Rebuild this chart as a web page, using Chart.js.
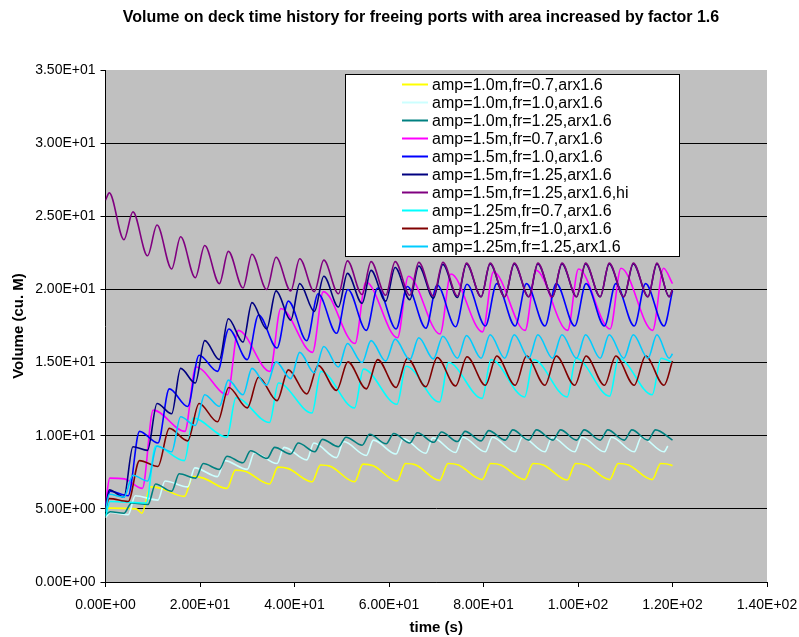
<!DOCTYPE html>
<html>
<head>
<meta charset="utf-8">
<title>Volume on deck time history</title>
<script src="https://cdn.jsdelivr.net/npm/chart.js@4.4.0/dist/chart.umd.min.js"></script>
<style>
  html, body { margin: 0; padding: 0; background: #fff; }
  #wrap { width: 799px; height: 637px; }
</style>
</head>
<body>
<div id="wrap"><canvas id="deckChart" width="799" height="637"></canvas></div>
<script>
// [time (s), volume (cu. M)], turning points only
const amp10fr07 = [[0,5.0],[1.0,5.05],[6.5,5.0],[7.7,4.7],
  [9.5,6.5],[11.7,6.4],[16.7,5.85],[18.5,7.2],[20.7,7.1],[25.7,6.4],
  [27.5,7.65],[29.7,7.55],[34.7,6.7],[36.5,7.85],[38.7,7.75],[43.7,6.85],
  [45.5,8.0],[47.7,7.9],[52.7,6.85],[54.5,8.06],[56.7,7.95],[61.7,6.9],
  [63.5,8.1],[65.7,8.0],[70.7,6.95],[72.5,8.1],[74.7,8.0],[79.7,7.0],
  [81.5,8.1],[83.7,8.0],[88.7,7.0],[90.5,8.1],[92.7,8.0],[97.7,6.97],
  [99.5,8.1],[101.7,8.0],[106.7,7.0],[108.5,8.1],[110.7,8.0],[115.7,7.0],
  [117.5,8.1],[119.7,8.0],[120,7.95]];

const amp10fr10 = [[0,4.4],[1.0,4.75],[4.8,4.6],[6.3,5.9],[11.1,5.6],[12.6,6.9],
  [17.4,6.5],[18.9,7.8],[23.7,7.2],[25.2,8.3],[30.0,7.7],[31.5,8.84],
  [36.3,8.1],[37.8,9.2],[42.6,8.35],[44.1,9.5],[48.9,8.5],[50.4,9.6],
  [55.2,8.65],[56.7,9.7],[61.5,8.75],[63.0,9.8],[67.8,8.8],[69.3,9.85],
  [74.1,8.85],[75.6,9.9],[80.4,8.9],[81.9,9.9],[86.7,8.9],[88.2,9.9],
  [93.0,8.9],[94.5,9.9],[99.3,8.9],[100.8,9.9],[105.6,8.9],[107.1,9.9],
  [111.9,8.9],[113.4,9.9],[118.2,8.9],[119.0,9.3]];

const amp10fr125 = [[0,4.6],[1.0,4.8],[3.9,4.7],[5.5,5.4],[9.0,5.3],[10.6,6.7],
  [14.0,6.2],[15.6,7.4],[19.1,7.1],[20.7,8.1],[24.1,7.7],[25.7,8.6],
  [29.1,8.15],[30.7,8.97],[34.2,8.45],[35.8,9.2],[39.2,8.75],[40.8,9.5],
  [44.3,8.9],[45.9,9.75],[49.3,9.25],[50.9,9.9],[54.3,9.35],[55.9,10.1],
  [59.4,9.45],[61.0,10.15],[64.4,9.5],[66.0,10.2],[69.5,9.55],[71.1,10.25],
  [74.5,9.6],[76.1,10.3],[79.5,9.65],[81.1,10.35],[84.6,9.7],[86.2,10.4],
  [89.6,9.7],[91.2,10.4],[94.7,9.7],[96.3,10.4],[99.7,9.7],[101.3,10.4],
  [104.7,9.7],[106.3,10.4],[109.8,9.7],[111.4,10.4],[114.8,9.7],[116.4,10.4],
  [120,9.7]];

const amp15fr07 = [[0,5.3],[0.9,7.1],[4.0,7.05],[7.8,6.4],[10.1,11.75],[16.8,10.3],
  [19.1,14.7],[25.8,12.8],[28.1,17.2],[34.8,14.4],[37.1,18.7],[43.8,15.7],
  [46.1,19.85],[52.8,16.3],[55.1,20.5],[61.8,16.7],[64.1,20.9],[70.8,16.95],
  [73.1,21.05],[79.8,17.1],[82.1,21.2],[88.8,17.2],[91.1,21.3],[97.8,17.2],
  [100.1,21.4],[106.8,17.3],[109.1,21.45],[115.8,17.2],[118.1,21.45],[120,20.4]];

const amp15fr10 = [[0,5.2],[1.0,6.2],[4.8,5.9],[7.2,10.3],[11.1,9.5],[13.5,13.2],
  [17.4,12.0],[19.8,15.5],[23.7,14.4],[26.1,17.3],[30.0,15.2],[32.4,18.25],
  [36.3,16.0],[38.7,19.2],[42.6,16.5],[45.0,19.7],[48.9,17.0],[51.3,20.0],
  [55.2,17.2],[57.6,20.1],[61.5,17.3],[63.9,20.2],[67.8,17.35],[70.2,20.3],
  [74.1,17.45],[76.5,20.35],[80.4,17.5],[82.8,20.4],[86.7,17.5],[89.1,20.4],
  [93.0,17.5],[95.4,20.4],[99.3,17.5],[101.7,20.4],[105.6,17.5],[108.0,20.4],
  [111.9,17.5],[114.3,20.4],[118.2,17.5],[120,19.9]];

const amp15fr125 = [[0,5.0],[0.8,6.3],[3.9,5.8],[5.8,9.25],[8.9,9.0],[10.9,12.2],
  [14.0,11.5],[15.9,14.6],[19.0,13.6],[21.0,16.5],[24.1,15.2],[26.0,18.0],
  [29.1,16.4],[31.0,19.1],[34.1,17.3],[36.1,19.9],[39.2,17.9],[41.1,20.4],
  [44.2,18.5],[46.2,20.9],[49.3,18.8],[51.2,21.1],[54.3,19.05],[56.2,21.3],
  [59.3,19.2],[61.3,21.5],[64.4,19.3],[66.3,21.6],[69.4,19.4],[71.4,21.7],
  [74.5,19.45],[76.4,21.75],[79.5,19.5],[81.4,21.75],[84.5,19.5],[86.5,21.75],
  [89.6,19.5],[91.5,21.75],[94.6,19.5],[96.6,21.75],[99.7,19.5],[101.6,21.75],
  [104.7,19.5],[106.6,21.75],[109.7,19.5],[111.7,21.75],[114.8,19.5],[116.7,21.75],
  [119.3,19.5],[120,20.0]];

const amp15fr125hi = [[0,26.1],[0.8,26.6],[3.9,23.4],[5.8,25.3],[8.9,22.3],[10.9,24.4],
  [14.0,21.4],[15.9,23.6],[19.0,20.8],[21.0,23.0],[24.1,20.4],[26.0,22.6],
  [29.1,20.1],[31.0,22.4],[34.1,20.0],[36.1,22.2],[39.2,19.9],[41.1,22.1],
  [44.2,19.85],[46.2,22.0],[49.3,19.7],[51.2,21.95],[54.3,19.65],[56.2,21.9],
  [59.3,19.6],[61.3,21.9],[64.4,19.6],[66.3,21.85],[69.4,19.55],[71.4,21.85],
  [74.5,19.55],[76.4,21.8],[79.5,19.5],[81.4,21.8],[84.5,19.5],[86.5,21.8],
  [89.6,19.5],[91.5,21.8],[94.6,19.5],[96.6,21.8],[99.7,19.5],[101.6,21.8],
  [104.7,19.5],[106.6,21.8],[109.7,19.5],[111.7,21.8],[114.8,19.5],[116.7,21.8],
  [119.3,19.5],[120,20.0]];

const amp125fr07 = [[0,4.5],[1.0,5.5],[8.6,5.4],[10.6,9.3],[16.7,8.3],[18.6,11.2],
  [25.7,9.9],[27.6,12.6],[34.7,10.9],[36.6,13.6],[43.7,11.55],[45.6,14.4],
  [52.7,11.9],[54.6,14.55],[61.7,12.15],[63.6,14.75],[70.7,12.3],[72.6,15.0],
  [79.7,12.55],[81.6,15.2],[88.7,12.65],[90.6,15.2],[97.7,12.65],[99.6,15.3],
  [106.7,12.7],[108.6,15.3],[115.7,12.8],[117.6,15.3],[120,15.0]];

const amp125fr10 = [[0,5.0],[0.8,5.7],[4.8,5.5],[7.2,8.3],[11.1,7.9],[13.5,10.5],
  [17.4,9.65],[19.8,12.2],[23.7,10.95],[26.1,13.3],[30.0,11.9],[32.4,14.0],
  [36.3,12.4],[38.7,14.5],[42.6,12.85],[45.0,14.8],[48.9,13.1],[51.3,15.05],
  [55.2,13.2],[57.6,15.2],[61.5,13.3],[63.9,15.3],[67.8,13.35],[70.2,15.35],
  [74.1,13.4],[76.5,15.4],[80.4,13.45],[82.8,15.45],[86.7,13.45],[89.1,15.45],
  [93.0,13.45],[95.4,15.45],[99.3,13.45],[101.7,15.45],[105.6,13.45],[108.0,15.45],
  [111.9,13.45],[114.3,15.45],[118.2,13.45],[120,15.1]];

const amp125fr125 = [[0,4.8],[0.8,6.0],[3.9,5.8],[5.8,7.3],[8.9,6.9],[10.9,9.3],
  [14.0,8.9],[15.9,11.3],[19.0,10.7],[21.0,12.8],[24.1,12.0],[26.0,13.8],
  [29.1,12.8],[31.0,14.6],[34.1,13.45],[36.1,15.05],[39.2,13.9],[41.1,15.7],
  [44.2,14.3],[46.2,16.1],[49.3,14.7],[51.2,16.3],[54.3,15.0],[56.2,16.5],
  [59.3,15.1],[61.3,16.6],[64.4,15.2],[66.3,16.7],[69.4,15.25],[71.4,16.8],
  [74.5,15.3],[76.4,16.85],[79.5,15.3],[81.4,16.9],[84.5,15.3],[86.5,16.9],
  [89.6,15.3],[91.5,16.9],[94.6,15.3],[96.6,16.9],[99.7,15.3],[101.6,16.9],
  [104.7,15.3],[106.6,16.9],[109.7,15.3],[111.7,16.9],[114.8,15.3],[116.7,16.9],
  [119.3,15.3],[120,15.6]];

const seriesData = [amp10fr07, amp10fr10, amp10fr125, amp15fr07, amp15fr10,
  amp15fr125, amp15fr125hi, amp125fr07, amp125fr10, amp125fr125];

const seriesLabels = [
  "amp=1.0m,fr=0.7,arx1.6", "amp=1.0m,fr=1.0,arx1.6", "amp=1.0m,fr=1.25,arx1.6",
  "amp=1.5m,fr=0.7,arx1.6", "amp=1.5m,fr=1.0,arx1.6", "amp=1.5m,fr=1.25,arx1.6",
  "amp=1.5m,fr=1.25,arx1.6,hi", "amp=1.25m,fr=0.7,arx1.6", "amp=1.25m,fr=1.0,arx1.6",
  "amp=1.25m,fr=1.25,arx1.6"
];

const seriesColors = ["#FFFF00", "#CCFFFF", "#008080", "#FF00FF", "#0000FF",
  "#000080", "#800080", "#00FFFF", "#800000", "#00CCFF"];

const xRange = [0, 140, 20];
const yRange = [0, 35, 5];

// Excel style labels: 2.00E+01
function sci(v) {
    const parts = Number(v).toExponential(2).split("e");
    const exp = parseInt(parts[1], 10);
    return parts[0] + "E" + (exp < 0 ? "-" : "+") + String(Math.abs(exp)).padStart(2, "0");
}

const plotBackground = {
    id: "plotBackground",
    beforeDraw(chart) {
        const { ctx, chartArea: a } = chart;
        ctx.save();
        ctx.fillStyle = "#C0C0C0";
        ctx.fillRect(a.left, a.top, a.right - a.left, a.bottom - a.top);
        ctx.restore();
    }
};

const chartTitle = {
    id: "chartTitle",
    afterDraw(chart) {
        const ctx = chart.ctx;
        ctx.save();
        ctx.fillStyle = "#000";
        ctx.font = "bold 16px Arial, 'Liberation Sans', sans-serif";
        ctx.textAlign = "center";
        ctx.textBaseline = "middle";
        ctx.fillText("Volume on deck time history for freeing ports with area increased by factor 1.6", 421, 18);
        ctx.restore();
    }
};

const boxLegend = {
    id: "boxLegend",
    afterDraw(chart) {
        const ctx = chart.ctx;
        ctx.save();
        ctx.fillStyle = "#fff";
        ctx.fillRect(345.5, 74.5, 334, 182);
        ctx.strokeStyle = "#000";
        ctx.lineWidth = 1;
        ctx.strokeRect(345.5, 74.5, 334, 182);
        ctx.font = "16px Arial, 'Liberation Sans', sans-serif";
        ctx.textBaseline = "middle";
        chart.data.datasets.forEach((ds, i) => {
            const y = 84.5 + i * 18;
            ctx.strokeStyle = ds.borderColor;
            ctx.lineWidth = 2;
            ctx.beginPath();
            ctx.moveTo(402, y);
            ctx.lineTo(428, y);
            ctx.stroke();
            ctx.fillStyle = "#000";
            ctx.fillText(ds.label, 432, y + 1);
        });
        ctx.restore();
    }
};

const datasets = seriesData.map((pts, i) => ({
    label: seriesLabels[i],
    data: pts.map(p => ({ x: p[0], y: p[1] })),
    borderColor: seriesColors[i],
    backgroundColor: seriesColors[i],
    borderWidth: 1.6,
    pointRadius: 0,
    cubicInterpolationMode: "monotone",
    fill: false,
    order: -i
}));

const tickFont = { family: "Arial, 'Liberation Sans', sans-serif", size: 14 };
const axisTitleFont = { family: "Arial, 'Liberation Sans', sans-serif", size: 15, weight: "bold" };

new Chart(document.getElementById("deckChart"), {
    type: "line",
    data: { datasets: datasets },
    options: {
        responsive: false,
        animation: false,
        devicePixelRatio: 1,
        layout: { padding: { top: 70, right: 32, left: 0, bottom: 0 } },
        plugins: {
            legend: { display: false },
            title: { display: false },
            tooltip: { enabled: false }
        },
        scales: {
            x: {
                type: "linear",
                min: xRange[0],
                max: xRange[1],
                ticks: { stepSize: xRange[2], callback: sci, color: "#000", font: tickFont, maxRotation: 0, padding: 10 },
                grid: { drawOnChartArea: false, color: "#000", tickLength: 5 },
                border: { color: "#000", width: 1 },
                title: { display: true, text: "time (s)", color: "#000", font: axisTitleFont, padding: { top: 0, bottom: 0 } },
                afterFit(scale) {
                    scale.height = 55;
                    scale.paddingLeft = 0;
                    scale.paddingRight = 0;
                }
            },
            y: {
                type: "linear",
                min: yRange[0],
                max: yRange[1],
                ticks: { stepSize: yRange[2], callback: sci, color: "#000", font: tickFont, padding: 5 },
                grid: {
                    color: c => (c.tick && c.tick.value === yRange[1]) ? "rgba(0,0,0,0)" : "#000",
                    tickColor: "#000",
                    tickLength: 5
                },
                border: { color: "#000", width: 1 },
                title: { display: true, text: "Volume (cu. M)", color: "#000", font: axisTitleFont, padding: { top: 10, bottom: 0 } },
                afterFit(scale) {
                    scale.width = 105.5;
                    scale.paddingTop = 0;
                    scale.paddingBottom = 0;
                }
            }
        }
    },
    plugins: [plotBackground, chartTitle, boxLegend]
});
</script>
</body>
</html>
